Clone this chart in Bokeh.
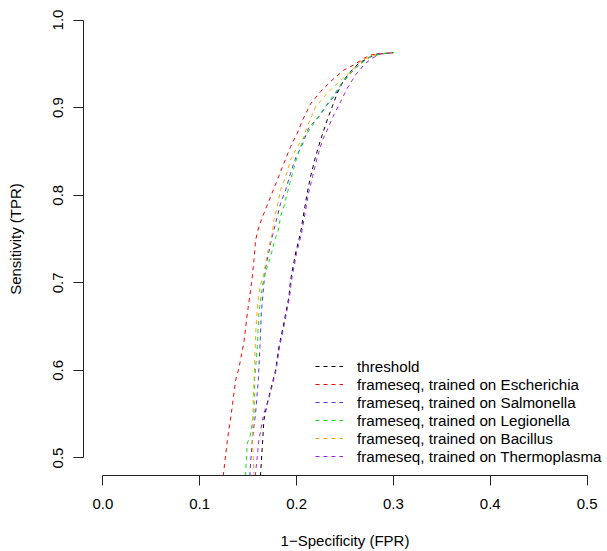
from bokeh.plotting import figure
from bokeh.models import (Range1d, LinearAxis, FixedTicker, PrintfTickFormatter,
                          Legend, LegendItem)
from bokeh.embed import file_html
from bokeh.resources import INLINE

# ---- data ----
x_ticks = [0.0, 0.1, 0.2, 0.3, 0.4, 0.5]
y_ticks = [0.5, 0.6, 0.7, 0.8, 0.9, 1.0]

series_labels = ["threshold",
                 "frameseq, trained on Escherichia",
                 "frameseq, trained on Salmonella",
                 "frameseq, trained on Legionella",
                 "frameseq, trained on Bacillus",
                 "frameseq, trained on Thermoplasma"]
series_colors = ["#000000", "#ff0000", "#5a2bff", "#00ee00", "#ffa500", "#a020f0"]

fpr_threshold = [0.1629, 0.1629, 0.1646, 0.1663, 0.1698, 0.1732, 0.1784, 0.1818, 0.1869,
                 0.1921, 0.1938, 0.1990, 0.2041, 0.2075, 0.2110, 0.2144, 0.2196, 0.2247,
                 0.2316, 0.2368, 0.2420, 0.2488, 0.2557, 0.2642, 0.2763, 0.2832, 0.3000]
tpr_threshold = [0.4703, 0.4829, 0.5129, 0.5434, 0.5628, 0.5776, 0.6005, 0.6271, 0.6541,
                 0.6841, 0.7032, 0.7340, 0.7568, 0.7797, 0.8025, 0.8211, 0.8440, 0.8630,
                 0.8858, 0.9010, 0.9163, 0.9315, 0.9410, 0.9506, 0.9581, 0.9612, 0.9627]

fpr_escherichia = [0.1234, 0.1244, 0.1286, 0.1327, 0.1371, 0.1405, 0.1457, 0.1492, 0.1526,
                   0.1543, 0.1560, 0.1577, 0.1611, 0.1663, 0.1732, 0.1801, 0.1869, 0.1938,
                   0.2007, 0.2062, 0.2144, 0.2247, 0.2368, 0.2488, 0.2608, 0.2694, 0.2763,
                   0.2838, 0.2918, 0.3000]
tpr_escherichia = [0.4703, 0.4806, 0.5205, 0.5514, 0.5890, 0.6027, 0.6328, 0.6655, 0.6918,
                   0.7070, 0.7260, 0.7489, 0.7640, 0.7793, 0.7983, 0.8174, 0.8364, 0.8554,
                   0.8707, 0.8858, 0.9041, 0.9182, 0.9315, 0.9429, 0.9498, 0.9563, 0.9600,
                   0.9612, 0.9620, 0.9627]

fpr_salmonella = [0.1519, 0.1519, 0.1543, 0.1577, 0.1605, 0.1622, 0.1636, 0.1663, 0.1680,
                  0.1732, 0.1766, 0.1801, 0.1835, 0.1887, 0.1938, 0.1990, 0.2062, 0.2124,
                  0.2247, 0.2299, 0.2385, 0.2471, 0.2557, 0.2660, 0.2763, 0.2866, 0.3000]
tpr_salmonella = [0.4703, 0.4844, 0.5205, 0.5514, 0.5890, 0.6271, 0.6655, 0.6998, 0.7169,
                  0.7451, 0.7603, 0.7755, 0.7908, 0.8059, 0.8250, 0.8425, 0.8584, 0.8767,
                  0.8916, 0.9010, 0.9124, 0.9277, 0.9392, 0.9506, 0.9581, 0.9612, 0.9627]

fpr_legionella = [0.1474, 0.1474, 0.1492, 0.1519, 0.1560, 0.1567, 0.1595, 0.1611, 0.1646,
                  0.1663, 0.1698, 0.1732, 0.1766, 0.1811, 0.1835, 0.1869, 0.1904, 0.1938,
                  0.1990, 0.2072, 0.2144, 0.2247, 0.2333, 0.2385, 0.2488, 0.2574, 0.2642,
                  0.2763, 0.2866, 0.3000]
tpr_legionella = [0.4703, 0.4844, 0.5171, 0.5243, 0.5510, 0.5890, 0.6271, 0.6655, 0.6955,
                  0.7070, 0.7184, 0.7298, 0.7451, 0.7603, 0.7755, 0.7869, 0.8022, 0.8174,
                  0.8382, 0.8653, 0.8764, 0.8935, 0.9067, 0.9144, 0.9315, 0.9410, 0.9486,
                  0.9581, 0.9612, 0.9627]

fpr_bacillus = [0.1557, 0.1560, 0.1543, 0.1554, 0.1567, 0.1580, 0.1595, 0.1622, 0.1663,
                0.1680, 0.1714, 0.1749, 0.1766, 0.1801, 0.1835, 0.1887, 0.1938, 0.2007,
                0.2075, 0.2103, 0.2196, 0.2299, 0.2385, 0.2471, 0.2574, 0.2677, 0.2763,
                0.2866, 0.3000]
tpr_bacillus = [0.4703, 0.4844, 0.5205, 0.5700, 0.6084, 0.6461, 0.6727, 0.6955, 0.7108,
                0.7223, 0.7412, 0.7565, 0.7717, 0.7869, 0.8059, 0.8211, 0.8402, 0.8554,
                0.8668, 0.8767, 0.9007, 0.9144, 0.9239, 0.9326, 0.9429, 0.9543, 0.9581,
                0.9612, 0.9627]

fpr_thermoplasma = [0.1577, 0.1577, 0.1611, 0.1663, 0.1701, 0.1737, 0.1789, 0.1825, 0.1876,
                    0.1928, 0.1948, 0.2000, 0.2052, 0.2088, 0.2124, 0.2165, 0.2216, 0.2268,
                    0.2316, 0.2385, 0.2454, 0.2523, 0.2608, 0.2711, 0.2780, 0.2866, 0.3000]
tpr_thermoplasma = [0.4703, 0.4829, 0.5205, 0.5514, 0.5628, 0.5776, 0.6005, 0.6271, 0.6541,
                    0.6841, 0.7032, 0.7340, 0.7568, 0.7797, 0.8025, 0.8211, 0.8440, 0.8630,
                    0.8744, 0.8916, 0.9067, 0.9220, 0.9372, 0.9506, 0.9563, 0.9612, 0.9627]

series_fpr = [fpr_threshold, fpr_escherichia, fpr_salmonella, fpr_legionella,
              fpr_bacillus, fpr_thermoplasma]
series_tpr = [tpr_threshold, tpr_escherichia, tpr_salmonella, tpr_legionella,
              tpr_bacillus, tpr_thermoplasma]

FONT = "Liberation Sans"
FS = "15px"

p = figure(width=607, height=551, output_backend="svg", toolbar_location=None,
           x_range=Range1d(-0.02, 0.52), y_range=Range1d(0.48, 1.02),
           x_axis_type=None, y_axis_type=None,
           min_border_left=83, min_border_right=1, min_border_top=2,
           min_border_bottom=76)
p.outline_line_color = None
p.background_fill_color = "white"
p.border_fill_color = "white"

xaxis = LinearAxis(bounds=(0.0, 0.5), ticker=FixedTicker(ticks=x_ticks),
                   formatter=PrintfTickFormatter(format="%.1f"),
                   axis_label="1\u2212Specificity (FPR)")
yaxis = LinearAxis(bounds=(0.5, 1.0), ticker=FixedTicker(ticks=y_ticks),
                   formatter=PrintfTickFormatter(format="%.1f"),
                   axis_label="Sensitivity (TPR)",
                   major_label_orientation="parallel")
for ax in (xaxis, yaxis):
    ax.axis_line_color = "#222222"
    ax.major_tick_line_color = "#222222"
    ax.major_tick_in = 0
    ax.major_tick_out = 10
    ax.minor_tick_in = 0
    ax.minor_tick_out = 0
    ax.major_label_text_font = FONT
    ax.major_label_text_font_size = FS
    ax.major_label_text_color = "black"
    ax.axis_label_text_font = FONT
    ax.axis_label_text_font_size = FS
    ax.axis_label_text_font_style = "normal"
    ax.axis_label_text_color = "black"
xaxis.major_label_standoff = 13
xaxis.axis_label_standoff = 20
yaxis.major_label_standoff = 10
yaxis.axis_label_standoff = 27
p.add_layout(xaxis, "below")
p.add_layout(yaxis, "left")

items = []
for lab, col, xs, ys in zip(series_labels, series_colors, series_fpr, series_tpr):
    r = p.line(xs, ys, line_color=col, line_width=1, line_dash="4 4")
    items.append(LegendItem(label=lab, renderers=[r]))

legend = Legend(items=items, location=(232, 10), padding=0, margin=0, spacing=0,
                glyph_width=28, glyph_height=18, label_height=18, label_standoff=14,
                border_line_color=None, background_fill_alpha=0,
                label_text_font=FONT, label_text_font_size="15.2px",
                label_text_color="black")
p.add_layout(legend)

open("out.html", "w").write(file_html(p, INLINE))
